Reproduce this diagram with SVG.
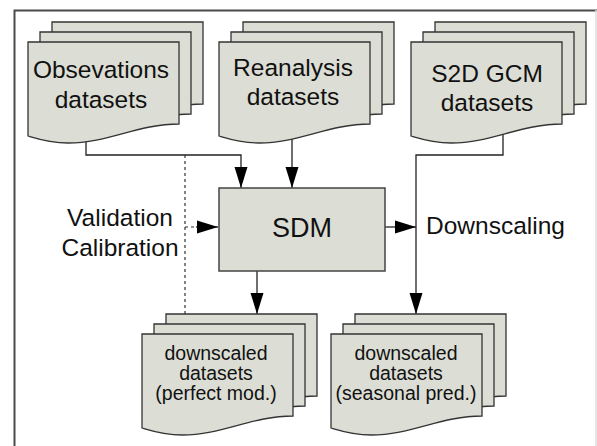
<svg xmlns="http://www.w3.org/2000/svg" width="597" height="446" viewBox="0 0 597 446">
<style>
.sheet{fill:#dcded5;stroke:#333;stroke-width:1.3;}
.box{fill:#dcded5;stroke:#444;stroke-width:1.5;}
.t{font-family:"Liberation Sans",Arial,sans-serif;fill:#111;text-anchor:middle;}
.big{font-size:24.5px;}
.small{font-size:19.5px;}
.c{fill:none;stroke:#222;stroke-width:1.3;}
.d{fill:none;stroke:#333;stroke-width:1.2;stroke-dasharray:3,3;}
</style>
<defs>
<marker id="ah" markerUnits="userSpaceOnUse" markerWidth="22" markerHeight="14" refX="21" refY="6.5" orient="auto" viewBox="0 0 22 13">
<path d="M0,0 L21,6.5 L0,13 Z" fill="#000"/>
</marker>
<path id="doc" d="M0,0 H151 V82 C110,82 80,101 40,101 C22,101 10,97 0,94 Z"/>
</defs>
<rect width="597" height="446" fill="#fff"/>
<path d="M14.5,446 V10.5 H597" fill="none" stroke="#4a4a4a" stroke-width="2"/>
<line x1="596" y1="10" x2="596" y2="446" stroke="#ddd" stroke-width="1.5"/>

<g id="connectors">
<path class="c" d="M86,135 V155 H241 V188" marker-end="url(#ah)"/>
<path class="c" d="M292,135 V188" marker-end="url(#ah)"/>
<path class="d" d="M185,155 V314"/>
<path class="d" d="M185,227 H197"/>
<path class="c" d="M196,227 H218" marker-end="url(#ah)"/>
<path class="c" d="M385,227 H416" marker-end="url(#ah)"/>
<path class="c" d="M503,135 V155 H416 V314" marker-end="url(#ah)"/>
<path class="c" d="M257,271 V314" marker-end="url(#ah)"/>
</g>

<g id="obs">
<use href="#doc" class="sheet" x="52" y="22"/>
<use href="#doc" class="sheet" x="40" y="32"/>
<use href="#doc" class="sheet" x="28" y="42"/>
<text class="t big" x="101" y="78">Obsevations</text>
<text class="t big" x="101" y="108">datasets</text>
</g>

<g id="reanalysis">
<use href="#doc" class="sheet" x="243" y="22"/>
<use href="#doc" class="sheet" x="231" y="32"/>
<use href="#doc" class="sheet" x="219" y="42"/>
<text class="t big" x="293" y="76">Reanalysis</text>
<text class="t big" x="293" y="105">datasets</text>
</g>

<g id="s2d">
<use href="#doc" class="sheet" x="435" y="22"/>
<use href="#doc" class="sheet" x="423" y="32"/>
<use href="#doc" class="sheet" x="411" y="42"/>
<text class="t big" x="487" y="82">S2D GCM</text>
<text class="t big" x="487" y="111">datasets</text>
</g>

<g id="sdm">
<rect class="box" x="219" y="188" width="166" height="83"/>
<text class="t" x="302" y="237" font-size="27">SDM</text>
</g>

<g id="validation">
<text class="t big" x="120" y="226">Validation</text>
<text class="t big" x="120" y="256">Calibration</text>
</g>

<g id="downscaling">
<text class="t big" x="426" y="234" style="text-anchor:start">Downscaling</text>
</g>

<g id="perfect">
<use href="#doc" class="sheet" x="166" y="314"/>
<use href="#doc" class="sheet" x="154" y="324"/>
<use href="#doc" class="sheet" x="142" y="334"/>
<text class="t small" x="216" y="360">downscaled</text>
<text class="t small" x="216" y="380">datasets</text>
<text class="t small" x="216" y="400">(perfect mod.)</text>
</g>

<g id="seasonal">
<use href="#doc" class="sheet" x="355" y="314"/>
<use href="#doc" class="sheet" x="343" y="324"/>
<use href="#doc" class="sheet" x="331" y="334"/>
<text class="t small" x="406" y="360">downscaled</text>
<text class="t small" x="406" y="380">datasets</text>
<text class="t small" x="406" y="400">(seasonal pred.)</text>
</g>
</svg>
